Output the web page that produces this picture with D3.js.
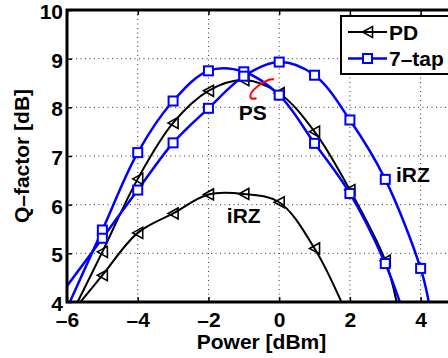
<!DOCTYPE html>
<html>
<head>
<meta charset="utf-8">
<script src="https://cdn.jsdelivr.net/npm/d3@7"></script>
<style>
  body { margin: 0; background: #fff; }
  text { font-family: "Liberation Sans", Arial, sans-serif; font-weight: bold; }
</style>
</head>
<body>
<div id="chart"></div>
<script>
// data
const pdPsX = [-5, -4, -3, -2, -1, 0, 1, 2, 3];
const pdPsQ = [5.03, 6.53, 7.68, 8.34, 8.56, 8.29, 7.5, 6.3, 4.85];
const pdPsEnds = [[-5.7, 4], [3.32, 4]];

const pdIrzX = [-5, -4, -3, -2, -1, 0, 1];
const pdIrzQ = [4.55, 5.42, 5.82, 6.21, 6.22, 6.05, 5.1];
const pdIrzEnds = [[-5.62, 4], [1.76, 4]];

const tapPsX = [-5, -4, -3, -2, -1, 0, 1, 2, 3];
const tapPsQ = [5.48, 7.07, 8.13, 8.75, 8.73, 8.25, 7.26, 6.23, 4.79];
const tapPsEnds = [[-5.92, 4], [3.41, 4]];

const tapIrzX = [-5, -4, -3, -2, -1, 0, 1, 2, 3, 4];
const tapIrzQ = [5.31, 6.3, 7.27, 7.98, 8.64, 8.93, 8.66, 7.74, 6.52, 4.69];
const tapIrzEnds = [[-6, 4.33], [4.23, 4]];

const xTicks = [-6, -4, -2, 0, 2, 4];
const yTicks = [4, 5, 6, 7, 8, 9, 10];
const legendNames = ["PD", "7\u2013tap"];

const width = 448, height = 358;
const mLeft = 67, mRight = 456, mTop = 10, mBottom = 302;

const x = d3.scaleLinear().domain([-6, 5]).range([mLeft, mRight]);
const y = d3.scaleLinear().domain([4, 10]).range([mBottom, mTop]);

const svg = d3.select("#chart").append("svg")
    .attr("width", width)
    .attr("height", height);

svg.append("rect").attr("width", width).attr("height", height).attr("fill", "#fff");

svg.append("clipPath").attr("id", "plot")
    .append("rect")
    .attr("x", mLeft).attr("y", mTop)
    .attr("width", mRight - mLeft).attr("height", mBottom - mTop);

// dotted grid
const grid = svg.append("g").attr("stroke", "#333").attr("stroke-width", 1)
    .attr("stroke-dasharray", "1 3.5");
grid.selectAll(".gx").data(xTicks.slice(1)).enter().append("line")
    .attr("x1", d => x(d)).attr("x2", d => x(d))
    .attr("y1", mTop).attr("y2", mBottom);
grid.selectAll(".gy").data(yTicks.slice(1, -1)).enter().append("line")
    .attr("x1", mLeft).attr("x2", mRight)
    .attr("y1", d => y(d)).attr("y2", d => y(d));

const fmt = d => d < 0 ? "\u2013" + Math.abs(d) : String(d);

// axes
const xAxis = svg.append("g")
    .attr("transform", "translate(0," + mBottom + ")")
    .call(d3.axisBottom(x).tickValues(xTicks).tickSizeInner(-5).tickSizeOuter(0)
        .tickPadding(10).tickFormat(fmt));
const yAxis = svg.append("g")
    .attr("transform", "translate(" + mLeft + ",0)")
    .call(d3.axisLeft(y).tickValues(yTicks).tickSizeInner(-5).tickSizeOuter(0)
        .tickPadding(4).tickFormat(fmt));
svg.append("g")
    .attr("transform", "translate(0," + mTop + ")")
    .call(d3.axisTop(x).tickValues(xTicks).tickSizeInner(-5).tickSizeOuter(0)
        .tickFormat(""));

[xAxis, yAxis].forEach(a => {
    a.selectAll("text").attr("font-size", 21).attr("fill", "#000");
});
yAxis.selectAll("text").attr("dy", "0.4em");
svg.selectAll(".tick line").attr("stroke", "#000").attr("stroke-width", 1.5);
svg.selectAll(".domain").remove();

// curves
const line = d3.line()
    .x(d => x(d[0]))
    .y(d => y(d[1]))
    .curve(d3.curveCatmullRom.alpha(0.5));

const series = [
    { xs: pdPsX, qs: pdPsQ, ends: pdPsEnds, color: "#000", w: 2, mark: "tri" },
    { xs: pdIrzX, qs: pdIrzQ, ends: pdIrzEnds, color: "#000", w: 2, mark: "tri" },
    { xs: tapPsX, qs: tapPsQ, ends: tapPsEnds, color: "#0000ff", w: 2.5, mark: "sq" },
    { xs: tapIrzX, qs: tapIrzQ, ends: tapIrzEnds, color: "#0000ff", w: 2.5, mark: "sq" }
];

const plot = svg.append("g").attr("clip-path", "url(#plot)");

series.forEach(s => {
    const pts = s.xs.map((v, i) => [v, s.qs[i]]);
    plot.append("path")
        .datum([s.ends[0]].concat(pts, [s.ends[1]]))
        .attr("d", line)
        .attr("fill", "none")
        .attr("stroke", s.color)
        .attr("stroke-width", s.w);
});

function marker(g, kind, cx, cy) {
    if (kind === "sq") {
        g.append("rect")
            .attr("x", cx - 4.5).attr("y", cy - 4.5)
            .attr("width", 9).attr("height", 9)
            .attr("fill", "#fff").attr("stroke", "#0000ff").attr("stroke-width", 2);
    } else {
        g.append("path")
            .attr("d", "M" + (cx - 5) + "," + cy + "L" + (cx + 5) + "," + (cy - 5.5) +
                "L" + (cx + 5) + "," + (cy + 5.5) + "Z")
            .attr("fill", "none").attr("stroke", "#000").attr("stroke-width", 1.6);
    }
}

series.forEach(s => {
    s.xs.forEach((v, i) => marker(plot, s.mark, x(v), y(s.qs[i])));
});

// frame
svg.append("path")
    .attr("d", "M" + mRight + "," + mTop + "H" + mLeft + "V" + mBottom + "H" + mRight)
    .attr("fill", "none").attr("stroke", "#000").attr("stroke-width", 3);

// annotations
const note = (t, px, py) => svg.append("text").attr("x", x(px)).attr("y", y(py))
    .attr("font-size", 21).text(t);
note("PS", -1.14, 7.75);
note("iRZ", 3.3, 6.47);
note("iRZ", -1.48, 5.62);

// red ellipse around the PS curves
(function () {
    const cx = 263, cy = 89, rx = 15, ry = 5.5, rot = -35 * Math.PI / 180;
    const pt = t => {
        const a = t * Math.PI / 180;
        const ex = rx * Math.cos(a), ey = ry * Math.sin(a);
        return [cx + ex * Math.cos(rot) - ey * Math.sin(rot),
                cy + ex * Math.sin(rot) + ey * Math.cos(rot)];
    };
    const p0 = pt(-15), p1 = pt(-225);
    svg.append("path")
        .attr("d", "M" + p0 + "A" + rx + "," + ry + " -35 1 0 " + p1)
        .attr("fill", "none").attr("stroke", "#ff0000").attr("stroke-width", 2);
})();

// axis titles
svg.append("text")
    .attr("x", x(-0.5)).attr("y", 349)
    .attr("text-anchor", "middle").attr("font-size", 21)
    .text("Power [dBm]");
svg.append("text")
    .attr("transform", "translate(29," + ((mTop + mBottom) / 2) + ") rotate(-90)")
    .attr("text-anchor", "middle").attr("font-size", 21)
    .text("Q\u2013factor [dB]");

// legend
const lg = svg.append("g");
lg.append("rect")
    .attr("x", 341).attr("y", 16).attr("width", 140).attr("height", 58)
    .attr("fill", "#fff").attr("stroke", "#000").attr("stroke-width", 2);
const legY = [32, 58.5];
legendNames.forEach((name, i) => {
    const c = i === 0 ? "#000" : "#0000ff";
    lg.append("line")
        .attr("x1", 348).attr("x2", 387)
        .attr("y1", legY[i]).attr("y2", legY[i])
        .attr("stroke", c).attr("stroke-width", i === 0 ? 2 : 2.5);
    marker(lg, i === 0 ? "tri" : "sq", 367.5, legY[i]);
    lg.append("text")
        .attr("x", 389).attr("y", legY[i] + 7.5)
        .attr("font-size", 21).text(name);
});
</script>
</body>
</html>
